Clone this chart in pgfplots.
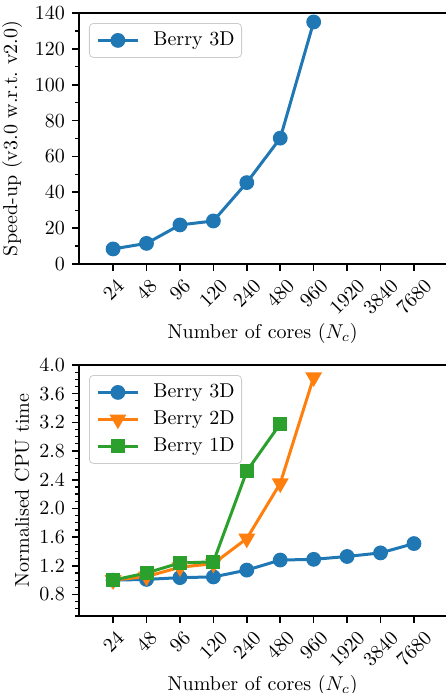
\documentclass[border=0pt]{standalone}
\usepackage{graphicx}
\usepackage{pgfplots}
\pgfplotsset{compat=1.18}
\definecolor{tabblue}{HTML}{1F77B4}
\definecolor{taborange}{HTML}{FF7F0E}
\definecolor{tabgreen}{HTML}{2CA02C}
\pgfplotsset{
  base/.style={
    scale only axis, width=183.7pt, height=125.5pt,
    xmin=-1.02, xmax=9.97,
    xtick={0,...,9},
    xticklabels={\rotatebox{45}{24},\rotatebox{45}{48},\rotatebox{45}{96},\rotatebox{45}{120},\rotatebox{45}{240},\rotatebox{45}{480},\rotatebox{45}{960},\rotatebox{45}{1920},\rotatebox{45}{3840},\rotatebox{45}{7680}},
    axis y line*=left,
    tick align=outside, xtick pos=bottom, ytick pos=left,
    major tick length=3.5pt, minor tick length=2pt,
    every tick/.style={black, line width=0.8pt},
    every minor tick/.style={black, line width=0.6pt},
    axis line style={line width=0.8pt},
    xlabel={Number of cores ($N_c$)},
    xlabel style={at={(axis description cs:0.5,-0.275)}, anchor=center},
    legend cell align=left,
    legend style={at={(0,1)}, anchor=north west, xshift=5pt, yshift=-5pt,
      draw=black!20, rounded corners=2pt, fill=white,
      inner xsep=3.5pt, inner ysep=4pt, row sep=4.5pt,
      nodes={inner sep=0pt, text height=7pt, text depth=2pt},
      /tikz/every odd column/.append style={column sep=7pt}},
    legend image code/.code={\draw[mark repeat=2,mark phase=2] plot coordinates {(0pt,0pt) (10pt,0pt) (20pt,0pt)};},
    every axis plot/.append style={line width=1.5pt, mark options={solid, line width=1pt}},
  }
}
\begin{document}
\begin{tikzpicture}
\path[use as bounding box] (0pt,0pt) rectangle (223pt,346.5pt);
\begin{axis}[base, at={(39.5pt,214.5pt)}, anchor=south west,
  ymin=0, ymax=140, ytick={0,20,...,140}, minor ytick={10,30,...,130},
  ylabel={Speed-up (v3.0 w.r.t.\ v2.0)},
  ylabel style={at={(axis description cs:-0.182,0.5)}, anchor=center}]
\addplot[color=tabblue, mark=*, mark size=3.2pt] coordinates {
  (0,8.4) (1,11.5) (2,21.8) (3,24.0) (4,45.4) (5,70.2) (6,135.0)};
\addlegendentry{Berry 3D}
\end{axis}
\begin{axis}[base, at={(39.5pt,38.5pt)}, anchor=south west,
  ymin=0.5, ymax=4.0, ytick={0.8,1.2,...,4.01}, minor ytick={0.5,0.6,...,4.01},
  yticklabel style={/pgf/number format/.cd, fixed, fixed zerofill, precision=1},
  ylabel={Normalised CPU time},
  ylabel style={at={(axis description cs:-0.155,0.5)}, anchor=center}]
\addplot[color=tabblue, mark=*, mark size=3.2pt] coordinates {
  (0,1.0) (1,1.01) (2,1.035) (3,1.045) (4,1.14) (5,1.28) (6,1.29) (7,1.33) (8,1.38) (9,1.51)};
\addlegendentry{Berry 3D}
\addplot[color=taborange, mark=triangle*, mark size=3.4pt, mark options={rotate=180}] coordinates {
  (0,1.0) (1,1.05) (2,1.18) (3,1.23) (4,1.58) (5,2.35) (6,3.83)};
\addlegendentry{Berry 2D}
\addplot[color=tabgreen, mark=square*, mark size=3pt] coordinates {
  (0,1.0) (1,1.10) (2,1.24) (3,1.255) (4,2.52) (5,3.18)};
\addlegendentry{Berry 1D}
\end{axis}
\end{tikzpicture}
\end{document}
